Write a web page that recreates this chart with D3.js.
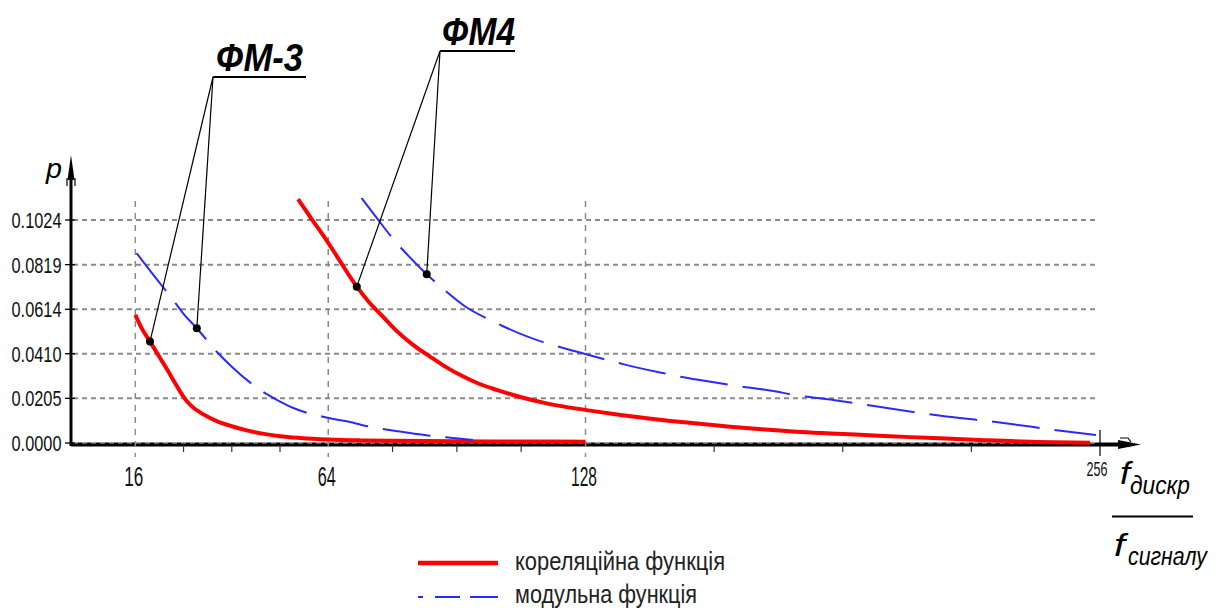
<!DOCTYPE html>
<html>
<head>
<meta charset="utf-8">
<script src="https://cdn.jsdelivr.net/npm/d3@7"></script>
<style>
  html, body { margin: 0; padding: 0; background: #fff; }
  svg { display: block; }
  text { font-family: "Liberation Sans", Arial, sans-serif; }
</style>
</head>
<body>
<div id="chart"></div>
<script>
// ---------------- data ----------------
const xTicks = [16, 64, 128, 256];
const xTickLabels = ["16", "64", "128", "256"];
const xMinorTicks = [28, 40, 52, 80, 96, 112, 160, 192, 224];
const yTicks = [0, 0.0205, 0.0410, 0.0614, 0.0819, 0.1024];
const yTickLabels = ["0.0000", "0.0205", "0.0410", "0.0614", "0.0819", "0.1024"];

// ФМ-3, кореляційна функція
const fm3CorrX = [16, 17.5, 19.65, 22, 24, 26, 28, 29, 30.4, 32, 34, 36, 40, 44, 48, 52, 57, 64, 72, 80, 96, 112, 128];
const fm3CorrY = [0.0588, 0.0530, 0.0466, 0.0395, 0.0335, 0.0272, 0.0212, 0.0188, 0.0163, 0.0142, 0.0121, 0.0103, 0.0077, 0.0057, 0.0042, 0.0031, 0.0023, 0.0016, 0.0012, 0.0010, 0.0008, 0.0007, 0.0006];
// ФМ-3, модульна функція
const fm3ModX = [16.3, 20, 25.4, 28, 31.3, 36.2, 40, 45.3, 48.7, 52, 55, 59, 62.7, 66, 69.4, 72.3, 76.4, 80, 85, 90, 93.4, 97, 100];
const fm3ModY = [0.0872, 0.0783, 0.0657, 0.0593, 0.0527, 0.0420, 0.0350, 0.0267, 0.0224, 0.0190, 0.0163, 0.0137, 0.0121, 0.0108, 0.0096, 0.0083, 0.0068, 0.0057, 0.0044, 0.0032, 0.0026, 0.0019, 0.0014];
// ФМ4, кореляційна функція
const fm4CorrX = [56.5, 60, 62.8, 66, 71.1, 74, 77, 81, 85, 89.3, 93, 97.6, 101.5, 105.9, 112, 118.3, 127.9, 135, 143.2, 156.5, 164, 171.8, 180.5, 190.5, 201, 212.9, 226, 240, 253.5];
const fm4CorrY = [0.1120, 0.1025, 0.0952, 0.0862, 0.0718, 0.0650, 0.0592, 0.0515, 0.0452, 0.0397, 0.0352, 0.0305, 0.0272, 0.0244, 0.0210, 0.0182, 0.0152, 0.0133, 0.0114, 0.0088, 0.0075, 0.0063, 0.0052, 0.0043, 0.0033, 0.0024, 0.0014, 0.0005, 0.0001];
// ФМ4, модульна функція
const fm4ModX = [72.3, 76, 80.2, 82.7, 88.5, 93.4, 98, 104.2, 107.5, 117.5, 120.8, 127.9, 134.5, 137.8, 147.3, 151.5, 158, 164.7, 175.5, 178.9, 190.9, 194.6, 204.6, 207.9, 217.8, 221.1, 231.5, 234.8, 244.3, 255];
const fm4ModY = [0.1125, 0.1035, 0.0936, 0.0884, 0.0775, 0.0695, 0.0628, 0.0565, 0.0536, 0.0463, 0.0445, 0.0409, 0.0376, 0.0360, 0.0321, 0.0305, 0.0285, 0.0265, 0.0236, 0.0224, 0.0194, 0.0184, 0.0156, 0.0147, 0.0122, 0.0115, 0.0093, 0.0085, 0.0061, 0.0037];

// annotation marker points (data units)
const fm3MarkX = [19.65, 31.3];
const fm3MarkY = [0.0466, 0.0527];
const fm4MarkX = [71.1, 88.5];
const fm4MarkY = [0.0718, 0.0775];

const labelNames = ["ФМ-3", "ФМ4"];
const legendLabels = ["кореляційна функція", "модульна функція"];

// ---------------- layout ----------------
const W = 1222, H = 608;
const svg = d3.select("#chart").append("svg").attr("width", W).attr("height", H);
svg.append("rect").attr("width", W).attr("height", H).attr("fill", "#fff");

const x = d3.scaleLinear().domain([0, 256]).range([71, 1100]);
const y = d3.scaleLinear().domain([0, 0.1024]).range([443, 220]);

const zip = (xs, ys) => xs.map((v, i) => [v, ys[i]]);
const line = d3.line().x(d => x(d[0])).y(d => y(d[1])).curve(d3.curveMonotoneX);

const RED = "#ff0000", BLUE = "#2a2aff", GRID = "#8a8a8a";

// ---------------- axes ----------------
svg.append("line").attr("x1", x(0)).attr("x2", 1128).attr("y1", y(0) + 1.5).attr("y2", y(0) + 1.5)
  .attr("stroke", "#000").attr("stroke-width", 4);
svg.append("path")
  .attr("d", `M1118,${y(0) - 3} L1141,${y(0) + 1.5} L1118,${y(0) + 6} Z`).attr("fill", "#000");
svg.append("path").attr("d", `M1120,${y(0) - 5} L1128,${y(0) - 5} L1131,${y(0) - 1}`)
  .attr("fill", "none").attr("stroke", "#000").attr("stroke-width", 1.2);

svg.append("line").attr("x1", x(0)).attr("x2", x(0)).attr("y1", y(0) + 3).attr("y2", 170)
  .attr("stroke", "#000").attr("stroke-width", 3);
svg.append("path").attr("d", `M${x(0)},155 L${x(0) - 3.5},180 L${x(0) + 3.5},180 Z`).attr("fill", "#000");
svg.append("path").attr("d", `M${x(0) - 4},186 L${x(0) - 4},178 M${x(0) + 4},186 L${x(0) + 4},178`)
  .attr("stroke", "#000").attr("stroke-width", 1.2);

// horizontal grid
svg.append("g").selectAll("line").data(yTicks).join("line")
  .attr("x1", x(0) + 2).attr("x2", 1098)
  .attr("y1", d => y(d)).attr("y2", d => y(d))
  .attr("stroke", d => d === 0 ? "#bdbdbd" : GRID)
  .attr("stroke-width", d => d === 0 ? 1.2 : 2)
  .attr("stroke-dasharray", "5,4");

// vertical grid
svg.append("g").selectAll("line").data(xTicks.slice(0, 3)).join("line")
  .attr("x1", d => x(d)).attr("x2", d => x(d))
  .attr("y1", 201).attr("y2", 457)
  .attr("stroke", GRID).attr("stroke-width", 1.5).attr("stroke-dasharray", "6,6");
svg.append("line").attr("x1", x(256)).attr("x2", x(256)).attr("y1", 430).attr("y2", 456)
  .attr("stroke", "#000").attr("stroke-width", 1.2);

// minor ticks
svg.append("g").selectAll("line").data(xMinorTicks).join("line")
  .attr("x1", d => x(d)).attr("x2", d => x(d))
  .attr("y1", y(0) + 2).attr("y2", y(0) + 9)
  .attr("stroke", "#333").attr("stroke-width", 1.2);

// y ticks
svg.append("g").selectAll("line").data(yTicks).join("line")
  .attr("x1", x(0) - 6).attr("x2", x(0) + 4)
  .attr("y1", d => y(d)).attr("y2", d => y(d))
  .attr("stroke", "#000").attr("stroke-width", 1.3);

// y tick labels
svg.append("g").selectAll("text").data(yTicks).join("text")
  .attr("x", 11.5).attr("y", d => y(d) + 8)
  .attr("font-size", 22).attr("fill", "#111")
  .attr("textLength", 50).attr("lengthAdjust", "spacingAndGlyphs")
  .text((d, i) => yTickLabels[i]);

// x tick labels
const xLabW = [19, 18, 26, 21];
svg.append("g").selectAll("text").data(xTicks).join("text")
  .attr("x", (d, i) => x(d) - xLabW[i] / 2 - (i === 3 ? 3 : 1.5))
  .attr("y", (d, i) => i === 3 ? 476 : 486)
  .attr("font-size", (d, i) => i === 3 ? 21 : 28).attr("fill", "#111")
  .attr("textLength", (d, i) => xLabW[i]).attr("lengthAdjust", "spacingAndGlyphs")
  .text((d, i) => xTickLabels[i]);

// axis titles
svg.append("text").attr("x", 46).attr("y", 178).attr("font-size", 27).attr("font-style", "italic")
  .attr("textLength", 16).attr("lengthAdjust", "spacingAndGlyphs").text("p");
svg.append("text").attr("x", 1120).attr("y", 484).attr("font-size", 32).attr("font-style", "italic")
  .attr("textLength", 10).attr("lengthAdjust", "spacingAndGlyphs").text("f");
svg.append("text").attr("x", 1130).attr("y", 494).attr("font-size", 25).attr("font-style", "italic")
  .attr("textLength", 60).attr("lengthAdjust", "spacingAndGlyphs").text("дискр");
svg.append("line").attr("x1", 1112).attr("x2", 1193).attr("y1", 516.5).attr("y2", 516.5)
  .attr("stroke", "#000").attr("stroke-width", 2);
svg.append("text").attr("x", 1114).attr("y", 556).attr("font-size", 32).attr("font-style", "italic")
  .attr("textLength", 11).attr("lengthAdjust", "spacingAndGlyphs").text("f");
svg.append("text").attr("x", 1128).attr("y", 565).attr("font-size", 25).attr("font-style", "italic")
  .attr("textLength", 79).attr("lengthAdjust", "spacingAndGlyphs").text("сигналу");

// ---------------- curves ----------------
const curves = [
  { d: zip(fm3CorrX, fm3CorrY), c: RED, w: 4, dash: null },
  { d: zip(fm4CorrX, fm4CorrY), c: RED, w: 4, dash: null },
  { d: zip(fm3ModX, fm3ModY), c: BLUE, w: 2, dash: "48,15" },
  { d: zip(fm4ModX, fm4ModY), c: BLUE, w: 2, dash: "48,15" }
];
svg.append("g").selectAll("path").data(curves).join("path")
  .attr("d", d => line(d.d))
  .attr("fill", "none")
  .attr("stroke", d => d.c)
  .attr("stroke-width", d => d.w)
  .attr("stroke-dasharray", d => d.dash);

// ---------------- annotations ----------------
const ann = [
  { name: labelNames[0], ax: 213, ay: 77, ux2: 306, tx: 216, ty: 71, tw: 87, fs: 38, marks: zip(fm3MarkX, fm3MarkY) },
  { name: labelNames[1], ax: 440, ay: 51, ux2: 515, tx: 442, ty: 45, tw: 73, fs: 38, marks: zip(fm4MarkX, fm4MarkY) }
];
ann.forEach(a => {
  const g = svg.append("g");
  g.append("line").attr("x1", a.ax).attr("x2", a.ux2).attr("y1", a.ay).attr("y2", a.ay)
    .attr("stroke", "#000").attr("stroke-width", 1.8);
  g.selectAll("line.lead").data(a.marks).join("line").attr("class", "lead")
    .attr("x1", a.ax).attr("y1", a.ay)
    .attr("x2", d => x(d[0])).attr("y2", d => y(d[1]))
    .attr("stroke", "#000").attr("stroke-width", 1.2);
  g.selectAll("circle").data(a.marks).join("circle")
    .attr("cx", d => x(d[0])).attr("cy", d => y(d[1])).attr("r", 4).attr("fill", "#000");
  g.append("text").attr("x", a.tx).attr("y", a.ty)
    .attr("font-size", a.fs).attr("font-weight", "bold").attr("font-style", "italic")
    .attr("textLength", a.tw).attr("lengthAdjust", "spacingAndGlyphs")
    .text(a.name);
});

// ---------------- legend ----------------
svg.append("line").attr("x1", 418).attr("x2", 498).attr("y1", 563).attr("y2", 563)
  .attr("stroke", RED).attr("stroke-width", 4.5);
svg.append("line").attr("x1", 418).attr("x2", 498).attr("y1", 597).attr("y2", 597)
  .attr("stroke", BLUE).attr("stroke-width", 2).attr("stroke-dasharray", "5,12,25,10,30");
svg.append("g").selectAll("text").data(legendLabels).join("text")
  .attr("x", 515).attr("y", (d, i) => i === 0 ? 570 : 603)
  .attr("font-size", 26).attr("fill", "#222")
  .attr("textLength", (d, i) => i === 0 ? 210 : 182).attr("lengthAdjust", "spacingAndGlyphs")
  .text(d => d);
</script>
</body>
</html>
